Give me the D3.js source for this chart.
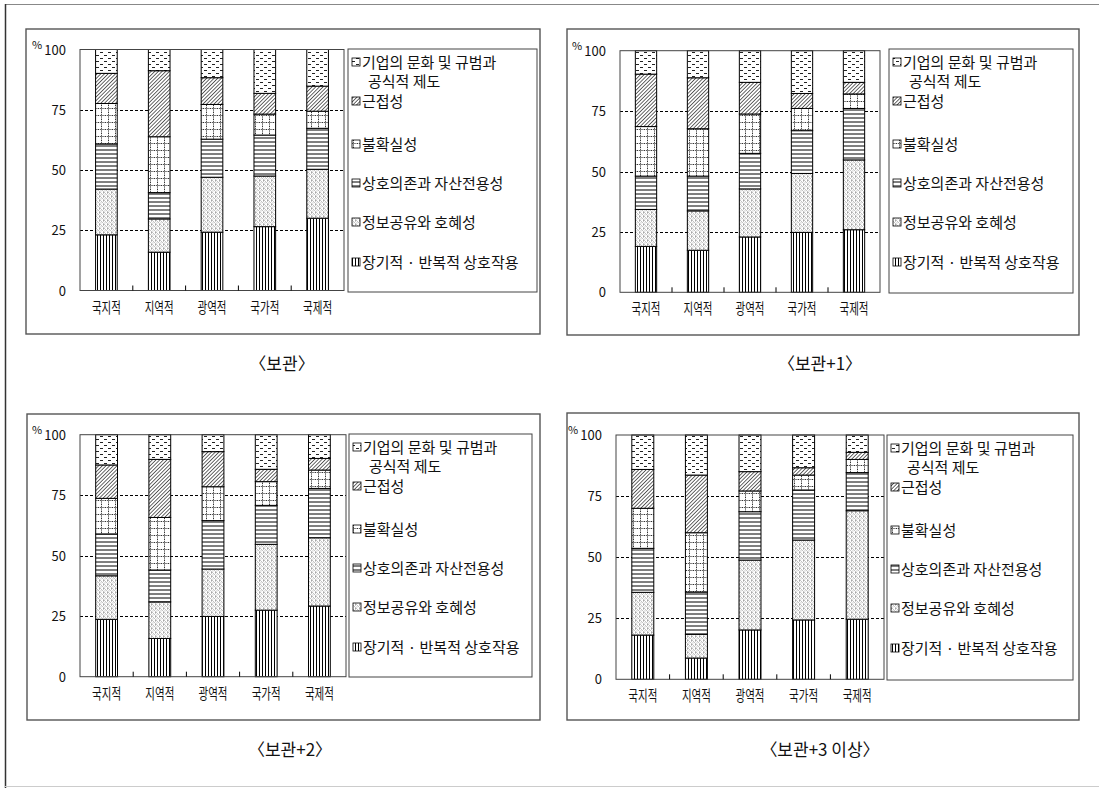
<!DOCTYPE html>
<html><head><meta charset="utf-8">
<script src="https://cdn.jsdelivr.net/npm/d3@7"></script>
<style>
body{margin:0;background:#fff}
svg{display:block}
text{font-family:"Noto Sans CJK KR","Noto Sans",sans-serif;fill:#111}
</style>
</head><body>
<svg id="c" width="1099" height="788"></svg>
<script>
// ---- data ----
const categories = ["국지적","지역적","광역적","국가적","국제적"];
// series, bottom to top
const seriesKeys = ["장기적 · 반복적 상호작용","정보공유와 호혜성","상호의존과 자산전용성","불확실성","근접성","기업의 문화 및 규범과 공식적 제도"];
// legend, top to bottom (series index, lines)
const legendSeries = [5,4,3,2,1,0];
const legendLines = [["기업의 문화 및 규범과","공식적 제도"],["근접성"],["불확실성"],["상호의존과 자산전용성"],["정보공유와 호혜성"],["장기적 · 반복적 상호작용"]];
const yTicks = [0,25,50,75,100];
const gridValues = [25,50,75];
const panelTitles = ["〈보관〉","〈보관+1〉","〈보관+2〉","〈보관+3 이상〉"];
// rows = categories, columns = seriesKeys (bottom to top), in %
const valuesBogwan = [
  [23.1,19.0,18.7,16.8,12.5, 9.9],
  [15.9,13.8,10.9,23.2,27.4, 8.8],
  [24.2,22.8,15.8,14.4,11.1,11.7],
  [26.5,21.0,17.0, 8.7, 8.6,18.2],
  [30.0,20.3,17.0, 7.1,10.4,15.2]
];
const valuesBogwan1 = [
  [19.0,15.3,13.8,20.5,21.7, 9.7],
  [17.4,16.3,14.4,19.6,21.1,11.2],
  [22.9,19.9,14.7,16.3,13.1,13.1],
  [24.8,24.4,17.7, 9.2, 6.2,17.7],
  [25.9,28.9,21.3, 6.0, 4.8,13.1]
];
const valuesBogwan2 = [
  [23.7,18.0,17.3,14.7,13.8,12.5],
  [15.8,15.1,13.2,21.7,24.0,10.2],
  [24.9,19.6,20.0,14.0,14.5, 7.0],
  [27.5,27.2,16.1, 9.8, 5.1,14.3],
  [29.2,28.2,20.4, 7.6, 4.8, 9.8]
];
const valuesBogwan3 = [
  [18.1,17.5,18.0,16.4,15.9,14.1],
  [ 8.7, 9.7,17.3,24.3,23.6,16.4],
  [20.2,28.6,19.8, 8.5, 7.9,15.0],
  [24.3,32.7,20.5, 6.1, 3.0,13.4],
  [24.6,44.4,15.6, 5.4, 2.9, 7.1]
];
const panelValues = [valuesBogwan, valuesBogwan1, valuesBogwan2, valuesBogwan3];

// ---- layout ----
const layout = [
  {box:[26,29,540,334],  plot:[80,49.5,344,290.5],  legend:[348,49,537,292],  title:[282,364]},
  {box:[567,29,1079,335],plot:[620,50.7,880,292.3], legend:[889,49,1073,293], title:[820,364]},
  {box:[27,414,540,720], plot:[80,434.7,346,676.7], legend:[349,434,532,677], title:[290,750]},
  {box:[567,413,1079,720],plot:[616,435,884,679.3], legend:[887,435,1073,680],title:[820,750]}
];
const legendOffsets = [[13,32],[52],[95],[134],[173],[213]];

const svg = d3.select("#c");

// ---- patterns ----
const defs = svg.append("defs");
function pat(id,w,h,build,transform){
  const p = defs.append("pattern").attr("id",id).attr("patternUnits","userSpaceOnUse")
    .attr("width",w).attr("height",h);
  if(transform) p.attr("patternTransform",transform);
  p.append("rect").attr("width",w).attr("height",h).attr("fill","#fff");
  build(p);
}
// 0 vertical stripes
pat("pat0",3,4,p=>p.append("line").attr("x1",1.5).attr("x2",1.5).attr("y1",0).attr("y2",4).attr("stroke","#000").attr("stroke-width",1));
// 1 dotted light diagonal
pat("pat1",4,4,p=>{
  p.append("line").attr("x1",0).attr("y1",0).attr("x2",4).attr("y2",4).attr("stroke","#aaa").attr("stroke-width",0.7);
  p.append("rect").attr("x",3).attr("y",0.5).attr("width",0.8).attr("height",0.8).attr("fill","#222");
  p.append("rect").attr("x",0.6).attr("y",2.6).attr("width",0.7).attr("height",0.7).attr("fill","#555");
});
// 2 horizontal stripes
pat("pat2",4,4,p=>p.append("line").attr("x1",0).attr("x2",4).attr("y1",2).attr("y2",2).attr("stroke","#000").attr("stroke-width",1));
// 3 dotted grid
pat("pat3",7,7,p=>{
  p.append("line").attr("x1",3.5).attr("x2",3.5).attr("y1",0).attr("y2",7).attr("stroke","#333").attr("stroke-width",1).attr("stroke-dasharray","1.2,1");
  p.append("line").attr("x1",0).attr("x2",7).attr("y1",3.5).attr("y2",3.5).attr("stroke","#333").attr("stroke-width",1).attr("stroke-dasharray","1.2,1");
});
// 4 diagonal hatch
pat("pat4",2.6,4,p=>p.append("line").attr("x1",1.3).attr("x2",1.3).attr("y1",0).attr("y2",4).attr("stroke","#333").attr("stroke-width",0.8),"rotate(45)");
// 5 short dashes
pat("pat5",8,6,p=>{
  p.append("line").attr("x1",0).attr("x2",3).attr("y1",1.5).attr("y2",1.5).attr("stroke","#222").attr("stroke-width",1);
  p.append("line").attr("x1",4).attr("x2",7).attr("y1",4.5).attr("y2",4.5).attr("stroke","#222").attr("stroke-width",1);
});

// ---- outer frame ----
svg.append("line").attr("x1",5).attr("x2",1099).attr("y1",4.5).attr("y2",4.5).attr("stroke","#888").attr("stroke-width",1);
svg.append("line").attr("x1",5.5).attr("x2",5.5).attr("y1",4).attr("y2",788).attr("stroke","#333").attr("stroke-width",1.5);
svg.append("line").attr("x1",5).attr("x2",1099).attr("y1",786.5).attr("y2",786.5).attr("stroke","#ccc").attr("stroke-width",1);

panelValues.forEach((vals,pi)=>{
  const L = layout[pi];
  const g = svg.append("g");
  const [bx0,by0,bx1,by1] = L.box;
  g.append("rect").attr("x",bx0).attr("y",by0).attr("width",bx1-bx0).attr("height",by1-by0)
    .attr("fill","none").attr("stroke","#555").attr("stroke-width",1.4);

  const [px0,py0,px1,py1] = L.plot;
  const y = d3.scaleLinear().domain([0,100]).range([py1,py0]);
  const x = d3.scaleBand().domain(categories).range([px0,px1]);

  // gridlines
  g.selectAll("line.grid").data(gridValues).join("line").attr("class","grid")
    .attr("x1",px0).attr("x2",px1).attr("y1",d=>Math.round(y(d))+0.5).attr("y2",d=>Math.round(y(d))+0.5)
    .attr("stroke","#000").attr("stroke-width",1).attr("stroke-dasharray","3,2");

  // stacked bars
  const rows = vals.map((r,ci)=>{const o={cat:categories[ci]}; seriesKeys.forEach((k,si)=>o[k]=r[si]); return o;});
  const stacked = d3.stack().keys(seriesKeys)(rows);
  const bw = x.bandwidth()*0.41;
  stacked.forEach((s,si)=>{
    g.selectAll(null).data(s).join("rect")
      .attr("x",d=>x(d.data.cat)+(x.bandwidth()-bw)/2)
      .attr("y",d=>y(d[1]))
      .attr("width",bw)
      .attr("height",d=>y(d[0])-y(d[1]))
      .attr("fill",`url(#pat${si})`)
      .attr("stroke","#000").attr("stroke-width",1);
  });

  // plot frame
  g.append("rect").attr("x",px0).attr("y",py0).attr("width",px1-px0).attr("height",py1-py0)
    .attr("fill","none").attr("stroke","#444").attr("stroke-width",1);

  // x ticks between bands
  g.selectAll("line.xt").data(categories.slice(1)).join("line").attr("class","xt")
    .attr("x1",d=>x(d)).attr("x2",d=>x(d)).attr("y1",py1).attr("y2",py1-5)
    .attr("stroke","#000").attr("stroke-width",1);

  // y labels
  g.selectAll("text.yl").data(yTicks).join("text").attr("class","yl")
    .attr("x",px0-14).attr("y",d=>y(d)+5).attr("text-anchor","end")
    .attr("font-size",13).text(d=>d);
  g.append("text").attr("x",px0-48).attr("y",y(100)-1).attr("font-size",11).text("%");

  // x labels
  g.selectAll("text.xl").data(categories).join("text").attr("class","xl")
    .attr("x",d=>x(d)+x.bandwidth()/2-14.5).attr("y",py1+22)
    .attr("font-size",15).attr("textLength",29).attr("lengthAdjust","spacingAndGlyphs")
    .text(d=>d);

  // legend
  const [lx0,ly0,lx1,ly1] = L.legend;
  g.append("rect").attr("x",lx0).attr("y",ly0).attr("width",lx1-lx0).attr("height",ly1-ly0)
    .attr("fill","#fff").attr("stroke","#444").attr("stroke-width",1);
  legendSeries.forEach((si,li)=>{
    const offs = legendOffsets[li];
    g.append("rect").attr("x",lx0+4).attr("y",ly0+offs[0]-4).attr("width",8).attr("height",8)
      .attr("fill",`url(#pat${si})`).attr("stroke","#000").attr("stroke-width",0.8);
    legendLines[li].forEach((t,k)=>{
      g.append("text").attr("x",lx0+(k===0?14:20)).attr("y",ly0+offs[k]+5.5)
        .attr("font-size",15).text(t);
    });
  });

  // title
  g.append("text").attr("x",L.title[0]).attr("y",L.title[1]+6).attr("text-anchor","middle")
    .attr("font-size",17).text(panelTitles[pi]);
});
</script>
</body></html>
